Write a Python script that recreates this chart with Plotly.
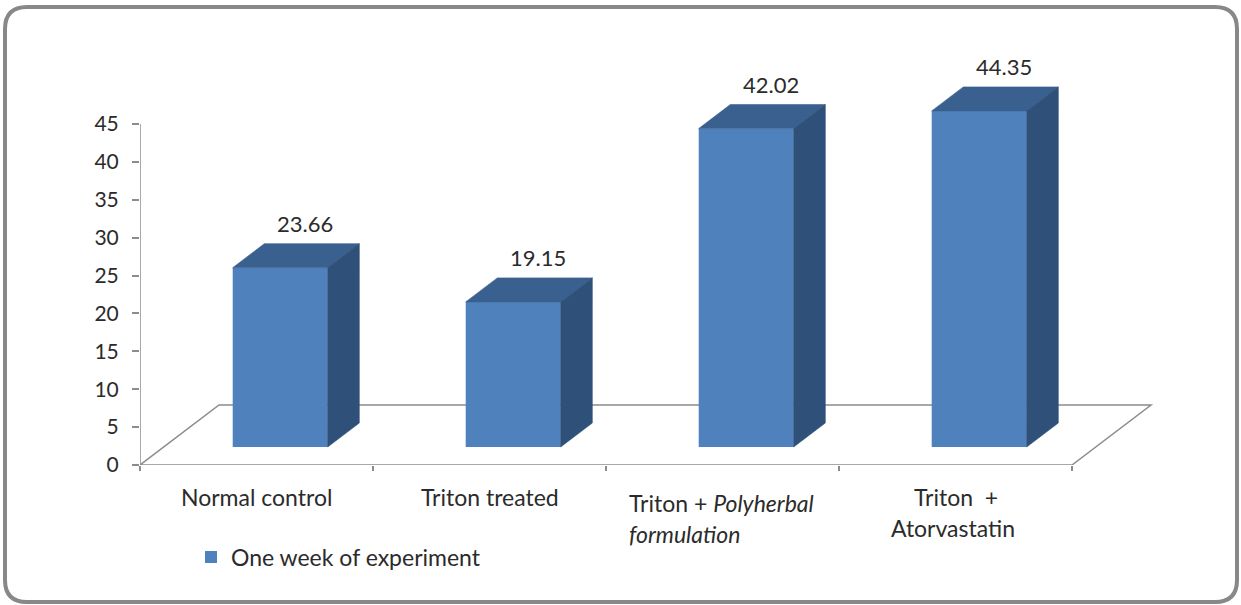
import plotly.graph_objects as go

# ---------------- data ----------------
categories = ["Normal control", "Triton treated",
              "Triton + Polyherbal formulation", "Triton + Atorvastatin"]
category_lines = [["Normal control"],
                  ["Triton treated"],
                  ["Triton + <i>Polyherbal</i>", "<i>formulation</i>"],
                  ["Triton\u00a0\u00a0+", "Atorvastatin"]]
values = [23.66, 19.15, 42.02, 44.35]
value_labels = ["23.66", "19.15", "42.02", "44.35"]
y_tick_vals = [0, 5, 10, 15, 20, 25, 30, 35, 40, 45]
y_tick_text = ["0", "5", "10", "15", "20", "25", "30", "35", "40", "45"]
series_name = "One week of experiment"

# ---------------- geometry / style ----------------
W, H = 1241, 605
PL, PR, PT, PB = 140, 1170, 30, 465          # plot area in pixels
PX_PER_CAT = 233.0
PX_PER_UNIT = 7.578
x_max = (PR - PL) / PX_PER_CAT
y_max = (PB - PT) / PX_PER_UNIT

floor_dx = 79 / PX_PER_CAT
floor_dy = 60 / PX_PER_UNIT
front_depth, back_depth = 0.3, 0.7
bar_w = 95 / PX_PER_CAT

FRONT = "#4F81BD"
TOP = "#3A6090"
SIDE = "#2F5078"
GRID = "#8C8C8C"
TXT = "#2B2B2B"
FONT = "Lato"
FS_LABEL = 23
FS_TICK = 21

n = len(values)
base = front_depth * floor_dy
shift_x = front_depth * floor_dx
bdx = (back_depth - front_depth) * floor_dx
bdy = (back_depth - front_depth) * floor_dy
centers = [i + 0.5 + shift_x for i in range(n)]


def dx(px):
    return (px - PL) / PX_PER_CAT


def paper_x(px):
    return (px - PL) / (PR - PL)


def paper_y(py):
    return (PB - py) / (PB - PT)


fig = go.Figure()

# front faces
fig.add_trace(go.Bar(
    x=centers, y=values, base=[base] * n, width=bar_w,
    marker=dict(color=FRONT, line=dict(width=0)),
    name=series_name, showlegend=True, hoverinfo="skip"))

# top and side faces
for c, v in zip(centers, values):
    xl, xr = c - bar_w / 2, c + bar_w / 2
    yt = base + v
    fig.add_trace(go.Scatter(
        x=[xl, xr, xr + bdx, xl + bdx, xl],
        y=[yt, yt, yt + bdy, yt + bdy, yt],
        mode="lines", fill="toself", fillcolor=TOP,
        line=dict(color=TOP, width=0.6), showlegend=False, hoverinfo="skip"))
    fig.add_trace(go.Scatter(
        x=[xr, xr, xr + bdx, xr + bdx, xr],
        y=[base, yt, yt + bdy, base + bdy, base],
        mode="lines", fill="toself", fillcolor=SIDE,
        line=dict(color=SIDE, width=0.6), showlegend=False, hoverinfo="skip"))

shapes = []
# floor
shapes.append(dict(
    type="path", xref="x", yref="y", layer="below",
    path=f"M 0,0 L {floor_dx},{floor_dy} L {n + floor_dx},{floor_dy} L {n},0 Z",
    line=dict(color=GRID, width=1.5)))
# vertical axis line
shapes.append(dict(type="line", xref="x", yref="y", layer="below",
                   x0=0, x1=0, y0=0, y1=y_tick_vals[-1],
                   line=dict(color=GRID, width=1.5)))
# outer rounded border
x0, y0, x1, y1, r = 5, 7, 1237, 602, 22
px, py = paper_x, paper_y
border = (f"M {px(x0 + r)},{py(y0)} L {px(x1 - r)},{py(y0)} "
          f"Q {px(x1)},{py(y0)} {px(x1)},{py(y0 + r)} "
          f"L {px(x1)},{py(y1 - r)} Q {px(x1)},{py(y1)} {px(x1 - r)},{py(y1)} "
          f"L {px(x0 + r)},{py(y1)} Q {px(x0)},{py(y1)} {px(x0)},{py(y1 - r)} "
          f"L {px(x0)},{py(y0 + r)} Q {px(x0)},{py(y0)} {px(x0 + r)},{py(y0)} Z")
shapes.append(dict(type="path", xref="paper", yref="paper", path=border,
                   line=dict(color="#888888", width=4), layer="above"))

annotations = []
# value labels
for c, v, t in zip(centers, values, value_labels):
    annotations.append(dict(
        x=c + 25 / PX_PER_CAT, y=base + v + bdy + 2.64,
        xref="x", yref="y", text=t, showarrow=False,
        font=dict(family=FONT, size=FS_LABEL - 1, color=TXT),
        xanchor="center", yanchor="middle"))

# category labels (line by line)
label_pos = [
    [(dx(256.5), 497, "center")],
    [(dx(489.5), 497, "center")],
    [(dx(627), 503, "left"), (dx(627), 534, "left")],
    [(dx(956), 497, "center"), (dx(953), 528, "center")],
]
for lines, poss in zip(category_lines, label_pos):
    for txt, (ax, ay, anc) in zip(lines, poss):
        annotations.append(dict(
            x=ax, y=paper_y(ay), xref="x", yref="paper", text=txt,
            showarrow=False,
            font=dict(family=FONT, size=FS_LABEL, color=TXT),
            xanchor=anc, yanchor="middle"))

fig.update_layout(
    width=W, height=H, autosize=False,
    margin=dict(l=PL, r=W - PR, t=PT, b=H - PB, pad=0),
    paper_bgcolor="white", plot_bgcolor="white",
    font=dict(family=FONT, size=FS_LABEL, color=TXT),
    showlegend=True,
    legend=dict(x=paper_x(191), y=paper_y(557), xanchor="left", yanchor="middle",
                bgcolor="rgba(0,0,0,0)",
                font=dict(family=FONT, size=FS_LABEL, color=TXT)),
    xaxis=dict(range=[0, x_max], showgrid=False, zeroline=False, showline=False,
               tickmode="array", tickvals=list(range(n + 1)), ticks="outside",
               ticklen=5, tickwidth=1.5, tickcolor=GRID, showticklabels=False,
               fixedrange=True),
    yaxis=dict(range=[0, y_max], showgrid=False, zeroline=False, showline=False,
               tickmode="array", tickvals=y_tick_vals, ticktext=y_tick_text,
               ticks="outside", ticklen=7, tickwidth=1.5, tickcolor=GRID,
               ticklabelstandoff=9,
               tickfont=dict(family=FONT, size=FS_TICK, color=TXT), fixedrange=True),
    shapes=shapes, annotations=annotations,
)

fig.write_html("out.html", config={"displayModeBar": False},
               post_script="document.body.style.margin='0';")
